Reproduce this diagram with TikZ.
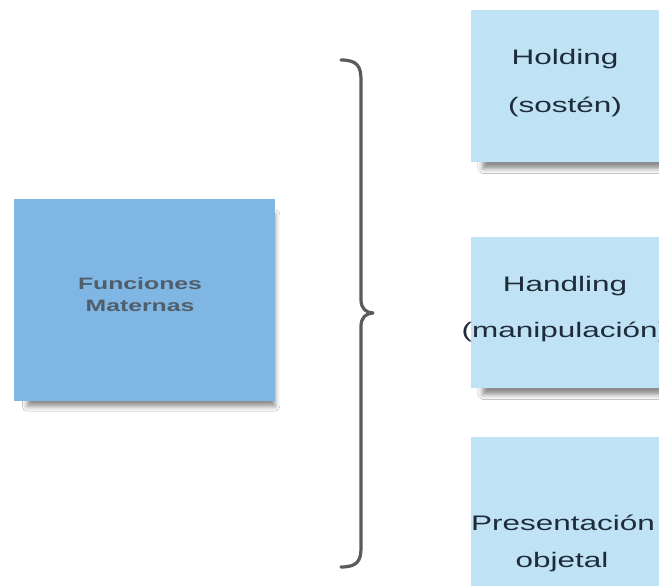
\documentclass[tikz,border=0pt]{standalone}
\usepackage{fontspec}
\setmainfont{Liberation Sans}
\usetikzlibrary{shadows.blur}
\definecolor{mainblue}{HTML}{7FB6E3}
\definecolor{lightblue}{HTML}{C0E2F5}
\definecolor{titlegray}{HTML}{505E6C}
\definecolor{textnavy}{HTML}{1E2B3A}
\definecolor{bracegray}{HTML}{5A5A5A}
% wide lettering, as set in the original layout tool
\newcommand\widetext[1]{\scalebox{1.5}[1]{#1}}
\tikzset{
  card/.style={inner sep=0pt, outer sep=0pt, draw=none,
    blur shadow={shadow xshift=7pt, shadow yshift=-11pt, shadow scale=0.95,
      shadow opacity=45, shadow blur radius=5pt}},
  maincard/.style={card, fill=mainblue},
  subcard/.style={card, fill=lightblue},
  maintext/.style={anchor=base, inner sep=0pt, text=titlegray,
    font=\fontsize{16.5}{16.5}\selectfont\bfseries},
  subtext/.style={anchor=base, inner sep=0pt, text=textnavy,
    font=\fontsize{21}{21}\selectfont},
}
\begin{document}
\begin{tikzpicture}[x=1pt, y=-1pt]
  \useasboundingbox (0,0) rectangle (659,586);
  \fill[white] (0,0) rectangle (659,586);

  % left box
  \node[maincard, minimum width=261pt, minimum height=202pt] (main) at (144.5,300) {};
  \node[maintext] (mainA) at (140,289) {\widetext{Funciones}};
  \node[maintext] (mainB) at (140,311) {\widetext{Maternas}};

  % right boxes (running past the right edge)
  \node[subcard, minimum width=199pt, minimum height=152pt] (hold) at (570.5,86) {};
  \node[subcard, minimum width=199pt, minimum height=151pt] (hand) at (570.5,312.5) {};
  \node[subcard, minimum width=199pt, minimum height=163pt] (pres) at (570.5,518.5) {};

  \node[subtext] (holdA) at (565,64.5) {\widetext{Holding}};
  \node[subtext] (holdB) at (565,113) {\widetext{(sostén)}};
  \node[subtext] (handA) at (565,291) {\widetext{Handling}};
  \node[subtext] (handB) at (565,337) {\widetext{(manipulación)}};
  \node[subtext] (presA) at (563,530) {\widetext{Presentación}};
  \node[subtext] (presB) at (562,567) {\widetext{objetal}};

  % curly brace
  \coordinate (bTop) at (341,60);
  \coordinate (bTip) at (373,313);
  \coordinate (bBot) at (341,567);
  \draw[bracegray, line width=3.2pt, line cap=round, line join=round]
    (bTop) .. controls (357,60) and (361,66) .. (361,80)
    -- (361,300) .. controls (361,308) and (366,313) .. (bTip)
    .. controls (366,313) and (361,318) .. (361,326)
    -- (361,548) .. controls (361,561) and (357,567) .. (bBot);
\end{tikzpicture}
\end{document}
